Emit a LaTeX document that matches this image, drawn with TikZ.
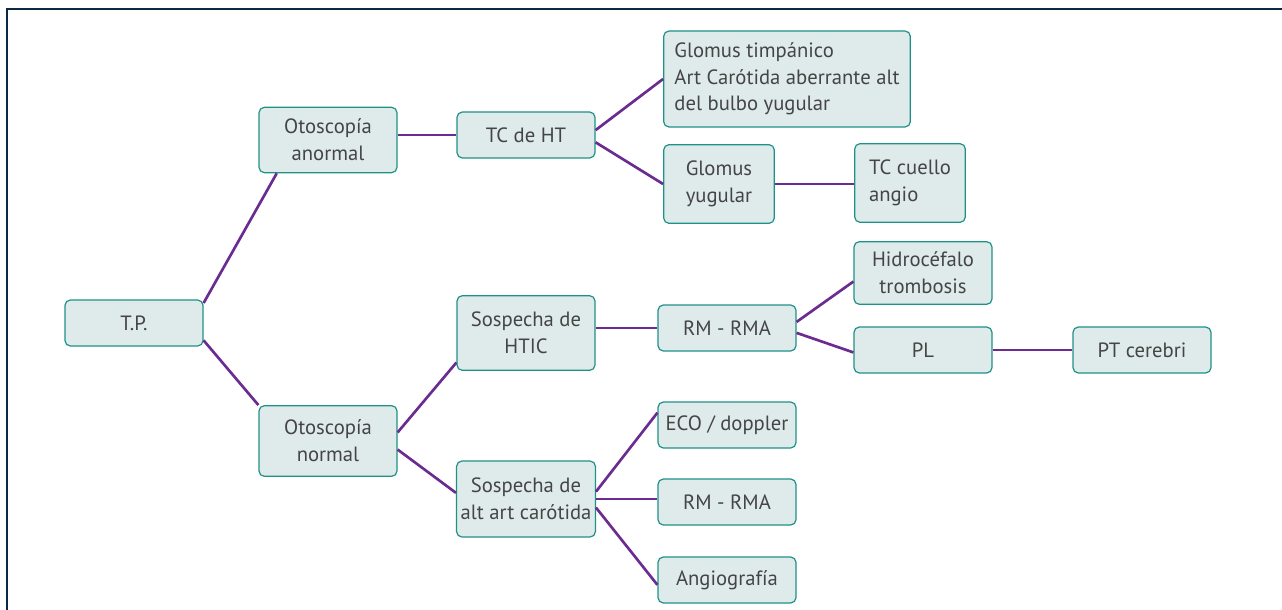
\documentclass[tikz,border=0pt]{standalone}
\usepackage{fontspec}
\setmainfont{PT Sans}
\usepackage{tikz}
\usetikzlibrary{positioning,calc}
\definecolor{frame}   {HTML}{0D2845}
\definecolor{boxline} {HTML}{1E9189}
\definecolor{boxfill} {HTML}{DEEBEA}
\definecolor{branch}  {HTML}{6B2C91}
\definecolor{textgrey}{HTML}{454545}
\tikzset{
  % --- nodes
  box/.style  = {rounded corners=4pt, draw=boxline, fill=boxfill, line width=0.9pt,
                 align=center, inner sep=3pt, text=textgrey,
                 font=\fontsize{15.5}{20}\selectfont,
                 minimum width=103.5pt, minimum height=34.5pt},
  boxl/.style = {box, align=left},
  % --- edges
  br/.style   = {draw=branch, line width=2pt},
}
\begin{document}
\begin{tikzpicture}[x=0.75pt,y=-0.75pt]
  \useasboundingbox (0,0) rectangle (1282,610);
  \draw[frame, line width=2.2pt] (1282,9) -- (7,9) -- (7,610);

  \node[box] (tp) at (134,323) {T.P.};
  \node[box, minimum height=49pt] (anorm) at (328,140) {Otoscopía\\anormal};
  \node[box, minimum height=53pt] (norm)  at (328,441) {Otoscopía\\normal};

  \node[box] (tcht) at (526,135) {TC de HT};
  \node[boxl, minimum width=185pt, minimum height=72pt] (glt) at (787,79)
    {Glomus timpánico\\Art Carótida aberrante alt\\del bulbo yugular};
  \node[boxl, minimum width=83pt, minimum height=59pt] (gly)  at (719,184) {Glomus\\yugular};
  \node[boxl, minimum width=83pt, minimum height=59pt] (tccu) at (910,183) {TC cuello\\angio};

  \node[box, minimum height=56pt] (htic) at (526,333) {Sospecha de\\HTIC};
  \node[box] (rmA)  at (727,328) {RM - RMA};
  \node[box, minimum height=47pt] (hidro) at (923,273) {Hidrocéfalo\\trombosis};
  \node[box] (pl)   at (923,350) {PL};
  \node[box] (ptc)  at (1142,350) {PT cerebri};

  \node[box, minimum height=57pt] (alt) at (526,499) {Sospecha de\\alt art carótida};
  \node[box] (eco)   at (727,425) {ECO / doppler};
  \node[box] (rmB)   at (727,502) {RM - RMA};
  \node[box] (angio) at (727,580) {Angiografía};

  \draw[br] (tp.16) -- (anorm.213);
  \draw[br] (tp.346) -- (norm.north west);
  \draw[br] (anorm.east |- tcht) -- (tcht.west);
  \draw[br] (tcht.4) -- (glt.west);
  \draw[br] (tcht.354) -- (gly.west);
  \draw[br] (gly) -- (tccu.west |- gly);
  \draw[br] (norm.7) -- (htic.203);
  \draw[br] (norm.353) -- (alt.175);
  \draw[br] (htic.east |- rmA) -- (rmA);
  \draw[br] (rmA.5) -- (hidro.187);
  \draw[br] (rmA.356) -- (pl.182);
  \draw[br] (pl) -- (ptc);
  \draw[br] (alt.6) -- (eco.170);
  \draw[br] (alt) -- (rmB.west |- alt);
  \draw[br] (alt.353) -- (angio.184);
\end{tikzpicture}
\end{document}
